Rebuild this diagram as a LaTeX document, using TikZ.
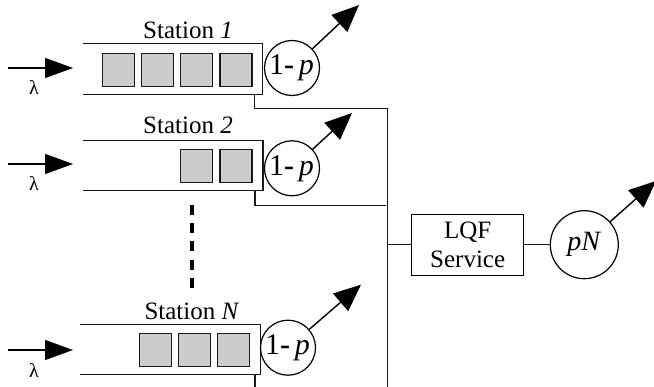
\documentclass[tikz,border=0pt]{standalone}
\usepackage{fontspec}
\setmainfont{Liberation Serif}
\usetikzlibrary{arrows.meta}
\tikzset{
  x=1pt,y=-1pt,
  line/.style={draw=black!90,line width=1.3pt},
  job/.style={draw=black!90,fill=black!20,line width=1.3pt,minimum width=32pt,minimum height=33pt,inner sep=0pt,outer sep=0pt},
  srv/.style={circle,draw=black,fill=white,line width=1.2pt,inner sep=0pt,minimum size=55pt,font=\fontsize{30}{30}\selectfont},
  lab/.style={font=\fontsize{25}{27}\selectfont,inner sep=0pt},
  lam/.style={font=\fontsize{20}{20}\selectfont,inner sep=0pt},
  bigarrow/.style={draw=black,line width=1.4pt,-{Triangle[length=27pt,width=23pt]}},
  inarrow/.style={draw=black,line width=1.4pt,-{Triangle[length=28pt,width=20pt]}},
}
\newcommand{\onep}{\hspace*{-1pt}1\textbf{-}\,\textit{p}}
\begin{document}
\begin{tikzpicture}
\useasboundingbox (0,0) rectangle (654,387);
% station 1
\coordinate (a1) at (83,43.7); \coordinate (b1) at (262.7,43.7);
\coordinate (c1) at (262.7,94.7); \coordinate (d1) at (83,94.7);
\draw[line] (a1) -- (b1) -- (c1) -- (d1);
\node[job] (j11) at (118.3,70) {};
\node[job] (j12) at (157.6,70) {};
\node[job] (j13) at (196.6,70) {};
\node[job] (j14) at (236,70) {};
\node[srv] (s1) at (292,68) {\onep};
\coordinate (o1) at (359,5);
\draw[bigarrow] (s1) -- (o1);
\coordinate (i1s) at (8,68); \coordinate (i1e) at (73,68);
\draw[inarrow] (i1s) -- (i1e);
\node[lam] (l1) at (34,87) {λ};
\node[lab] (t1) at (188,30) {Station \textit{1}};
% station 2
\coordinate (a2) at (83,140.3); \coordinate (b2) at (263,140.3);
\coordinate (c2) at (263,190.7); \coordinate (d2) at (83,190.7);
\draw[line] (a2) -- (b2) -- (c2) -- (d2);
\node[job] (j23) at (196.6,166.3) {};
\node[job] (j24) at (236,166.3) {};
\node[srv] (s2) at (292,168.3) {\onep};
\coordinate (o2) at (352,113);
\draw[bigarrow] (s2) -- (o2);
\coordinate (i2s) at (8,164); \coordinate (i2e) at (73,164);
\draw[inarrow] (i2s) -- (i2e);
\node[lam] (l2) at (34,183) {λ};
\node[lab] (t2) at (188,125) {Station \textit{2}};
% station N
\coordinate (aN) at (80.3,324.3); \coordinate (bN) at (260.7,324.3);
\coordinate (cN) at (260.7,374.3); \coordinate (dN) at (80.3,374.3);
\draw[line] (aN) -- (bN) -- (cN) -- (dN);
\node[job] (jN2) at (155.3,350.2) {};
\node[job] (jN3) at (194.3,350.2) {};
\node[job] (jN4) at (233.6,350.2) {};
\node[srv] (sN) at (288,347.7) {\onep};
\coordinate (oN) at (361,284.7);
\draw[bigarrow] (sN) -- (oN);
\coordinate (iNs) at (8,350); \coordinate (iNe) at (73,350);
\draw[inarrow] (iNs) -- (iNe);
\node[lam] (lN) at (34,370) {λ};
\node[lab] (tN) at (192,311) {Station \textit{N}};
% dots
\coordinate (ds) at (192,205); \coordinate (de) at (192,295);
\draw[line width=4pt,dash pattern=on 10pt off 8.2pt] (ds) -- (de);
% bus
\coordinate (bt) at (387.3,108.7); \coordinate (bb) at (387.3,387);
\coordinate (m1a) at (254.7,94.7); \coordinate (m1b) at (254.7,108.7);
\coordinate (m2a) at (255,190.7); \coordinate (m2b) at (255,205.3);
\coordinate (m2c) at (385.7,205.3);
\coordinate (mNa) at (255,374.3); \coordinate (mNb) at (255,387);
\draw[line] (m1a) -- (m1b) -- (bt) -- (bb);
\draw[line] (m2a) -- (m2b) -- (m2c);
\draw[line] (mNa) -- (mNb);
% service
\node[draw=black,line width=1.3pt,minimum width=112pt,minimum height=61pt,inner sep=0pt,align=center,font=\fontsize{25}{29}\selectfont] (q) at (467.7,245) {LQF\\Service};
\coordinate (pc) at (584.3,244.7);
\coordinate (op) at (656,181);
\draw[bigarrow] (pc) -- (op);
\node[srv,minimum size=68pt,font=\fontsize{28}{28}\selectfont] (pn) at (pc) {\textit{pN}};
\coordinate (bj) at (387.3,244.7);
\draw[line] (bj) -- (q.west |- bj);
\draw[line] (q.east |- pn) -- (pn);
\end{tikzpicture}
\end{document}
